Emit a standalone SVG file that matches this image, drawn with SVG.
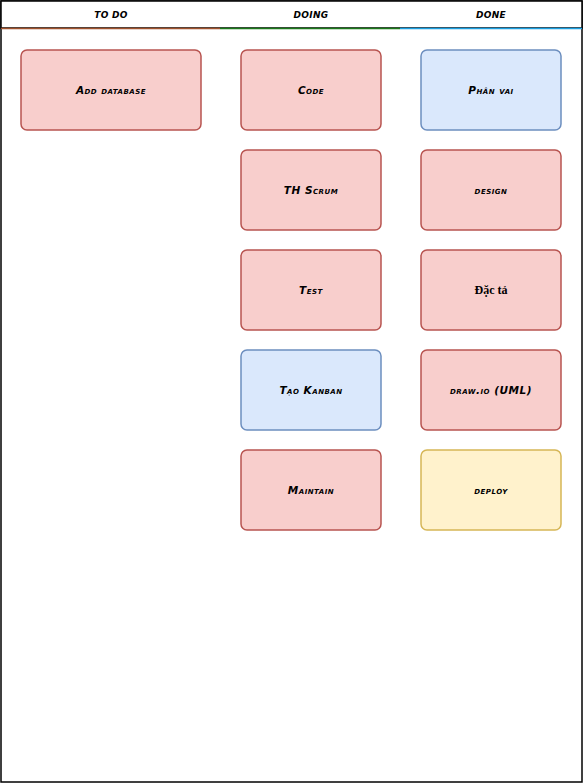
<svg xmlns="http://www.w3.org/2000/svg" width="584" height="784" viewBox="0 0 584 784">
  <defs>
    <style>
      .frame { fill: #ffffff; stroke: #000000; stroke-width: 1.5; }
      .card rect { stroke-width: 1.5; }
      .red rect { fill: #f8cecc; stroke: #b85450; }
      .blue rect { fill: #dae8fc; stroke: #6c8ebf; }
      .yellow rect { fill: #fff2cc; stroke: #d6b656; }
      text { font-family: "DejaVu Sans", "Liberation Sans", sans-serif; font-weight: bold; font-style: italic; font-variant: small-caps; font-size: 10.5px; letter-spacing: 0.5px; fill: #000000; text-anchor: middle; dominant-baseline: central; }
      .head { font-size: 9px; letter-spacing: 0.3px; }
      .serif { font-family: "Liberation Serif", "DejaVu Serif", serif; font-style: normal; font-variant: normal; font-size: 12px; letter-spacing: 0; }
    </style>
  </defs>

  <!-- board frame -->
  <g id="board">
    <rect class="frame" x="1" y="1" width="581" height="781"/>
    <rect class="frame" x="1" y="1" width="581" height="27"/>
    <line x1="1" y1="28.5" x2="220" y2="28.5" stroke="#a0522d" stroke-width="1.5"/>
    <line x1="220" y1="28.5" x2="400" y2="28.5" stroke="#1a7a1a" stroke-width="1.5"/>
    <line x1="400" y1="28.5" x2="582" y2="28.5" stroke="#1ba1e2" stroke-width="1.5"/>
    <text class="head" x="111" y="15">TO DO</text>
    <text class="head" x="311" y="15">DOING</text>
    <text class="head" x="491" y="15">DONE</text>
  </g>

  <!-- to do -->
  <g id="add-database" class="card red">
    <rect x="21" y="50" width="180" height="80" rx="6"/>
    <text x="111" y="90">Add database</text>
  </g>

  <!-- doing -->
  <g id="code" class="card red">
    <rect x="241" y="50" width="140" height="80" rx="6"/>
    <text x="311" y="90">Code</text>
  </g>
  <g id="th-scrum" class="card red">
    <rect x="241" y="150" width="140" height="80" rx="6"/>
    <text x="311" y="190">TH Scrum</text>
  </g>
  <g id="test" class="card red">
    <rect x="241" y="250" width="140" height="80" rx="6"/>
    <text x="311" y="290">Test</text>
  </g>
  <g id="tao-kanban" class="card blue">
    <rect x="241" y="350" width="140" height="80" rx="6"/>
    <text x="311" y="390">Tạo Kanban</text>
  </g>
  <g id="maintain" class="card red">
    <rect x="241" y="450" width="140" height="80" rx="6"/>
    <text x="311" y="490">Maintain</text>
  </g>

  <!-- done -->
  <g id="phan-vai" class="card blue">
    <rect x="421" y="50" width="140" height="80" rx="6"/>
    <text x="491" y="90">Phân vai</text>
  </g>
  <g id="design" class="card red">
    <rect x="421" y="150" width="140" height="80" rx="6"/>
    <text x="491" y="190">design</text>
  </g>
  <g id="dac-ta" class="card red">
    <rect x="421" y="250" width="140" height="80" rx="6"/>
    <text class="serif" x="491" y="290">Đặc tả</text>
  </g>
  <g id="drawio" class="card red">
    <rect x="421" y="350" width="140" height="80" rx="6"/>
    <text x="491" y="390">draw.io (UML)</text>
  </g>
  <g id="deploy" class="card yellow">
    <rect x="421" y="450" width="140" height="80" rx="6"/>
    <text x="491" y="490">deploy</text>
  </g>

  <g id="connectors"/>
</svg>
